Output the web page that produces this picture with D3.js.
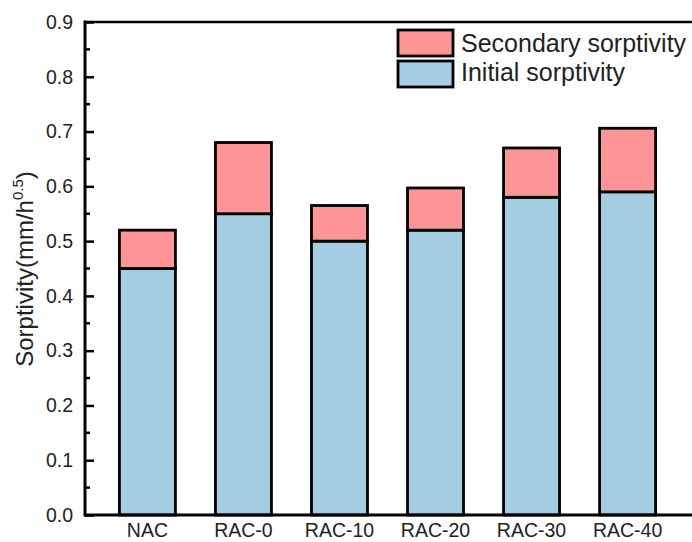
<!DOCTYPE html>
<html>
<head>
<meta charset="utf-8">
<script src="https://cdn.jsdelivr.net/npm/d3@7"></script>
<style>
  body { margin: 0; background: #fff; }
  svg text { font-family: "Liberation Sans", Arial, sans-serif; fill: #222; }
</style>
</head>
<body>
<svg width="692" height="542"></svg>
<script>
const categories = ["NAC", "RAC-0", "RAC-10", "RAC-20", "RAC-30", "RAC-40"];
const initial = [0.45, 0.55, 0.50, 0.52, 0.58, 0.59];
const secondary = [0.07, 0.13, 0.065, 0.077, 0.09, 0.116];
const yTicks = [0, 0.1, 0.2, 0.3, 0.4, 0.5, 0.6, 0.7, 0.8, 0.9];
const seriesNames = ["Secondary sorptivity", "Initial sorptivity"];
const colors = {secondary: "#ff9596", initial: "#a5cde2"};

const svg = d3.select("svg");
const plotLeft = 85, plotRight = 692, plotTop = 22, plotBottom = 515;

const x = d3.scaleLinear().domain([-0.65, 5.65]).range([plotLeft, 690]);
const y = d3.scaleLinear().domain([0, 0.9]).range([plotBottom, plotTop]);
const barW = 56;

const g = svg.append("g");

// bars
categories.forEach(function (c, i) {
    const cx = x(i);
    g.append("rect")
        .attr("x", cx - barW / 2)
        .attr("y", y(initial[i]))
        .attr("width", barW)
        .attr("height", y(0) - y(initial[i]))
        .attr("fill", colors.initial)
        .attr("stroke", "#000")
        .attr("stroke-width", 2.8);
    g.append("rect")
        .attr("x", cx - barW / 2)
        .attr("y", y(initial[i] + secondary[i]))
        .attr("width", barW)
        .attr("height", y(initial[i]) - y(initial[i] + secondary[i]))
        .attr("fill", colors.secondary)
        .attr("stroke", "#000")
        .attr("stroke-width", 2.8);
});

// y axis with inward ticks
const yAxis = g.append("g")
    .attr("transform", "translate(" + plotLeft + ",0)")
    .call(d3.axisLeft(y).tickValues(yTicks).tickFormat(d3.format(".1f")).tickSize(-9).tickPadding(12));
yAxis.select(".domain").remove();
yAxis.selectAll(".tick line").attr("stroke", "#000").attr("stroke-width", 2.5);
yAxis.selectAll(".tick text").attr("font-size", 19.5).attr("fill", "#222");

// minor ticks
const minor = d3.range(0.05, 0.9, 0.1);
g.selectAll(".minor").data(minor).enter().append("line")
    .attr("x1", plotLeft).attr("x2", plotLeft + 5)
    .attr("y1", d => y(d)).attr("y2", d => y(d))
    .attr("stroke", "#000").attr("stroke-width", 2.5);

// frame lines
g.append("line").attr("x1", plotLeft).attr("x2", plotLeft).attr("y1", plotTop - 1.5).attr("y2", plotBottom + 1.5)
    .attr("stroke", "#000").attr("stroke-width", 3);
g.append("line").attr("x1", plotLeft).attr("x2", plotRight).attr("y1", plotBottom).attr("y2", plotBottom)
    .attr("stroke", "#000").attr("stroke-width", 3);
g.append("line").attr("x1", plotLeft).attr("x2", plotRight).attr("y1", plotTop).attr("y2", plotTop)
    .attr("stroke", "#000").attr("stroke-width", 2.5);

// x labels
g.selectAll(".xl").data(categories).enter().append("text")
    .attr("x", (d, i) => x(i))
    .attr("y", 537)
    .attr("text-anchor", "middle")
    .attr("font-size", 19.5)
    .text(d => d);

// y title
const yt = svg.append("text")
    .attr("transform", "translate(33,269) rotate(-90)")
    .attr("text-anchor", "middle")
    .attr("font-size", 24);
yt.append("tspan").text("Sorptivity(mm/h");
yt.append("tspan").attr("font-size", 15).attr("dy", -10).text("0.5");
yt.append("tspan").attr("dy", 10).text(")");

// legend
const lg = svg.append("g");
[colors.secondary, colors.initial].forEach(function (col, i) {
    lg.append("rect")
        .attr("x", 398).attr("y", 30 + i * 31)
        .attr("width", 55).attr("height", 26)
        .attr("fill", col).attr("stroke", "#000").attr("stroke-width", 2.8);
    lg.append("text")
        .attr("x", 461).attr("y", 52 + i * 28.5)
        .attr("font-size", 25)
        .text(seriesNames[i]);
});
</script>
</body>
</html>
